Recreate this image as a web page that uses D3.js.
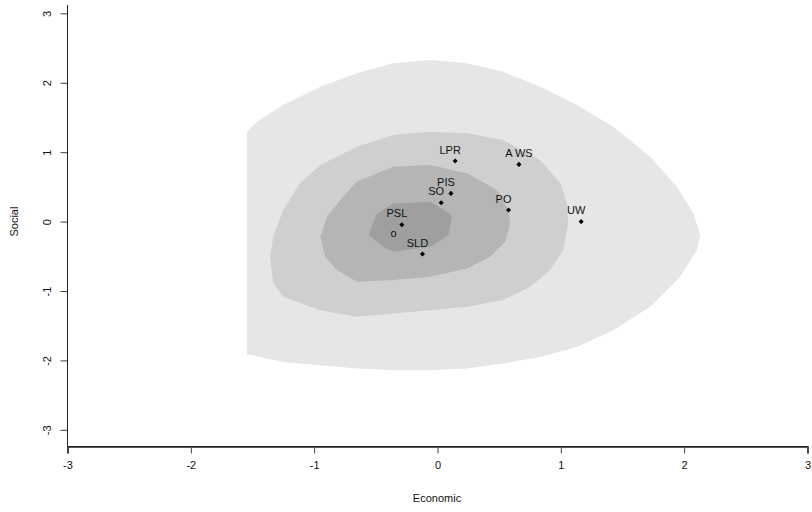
<!DOCTYPE html>
<html>
<head>
<meta charset="utf-8">
<script src="https://cdn.jsdelivr.net/npm/d3@7"></script>
<style>
  html, body { margin: 0; padding: 0; background: #fff; }
  svg { display: block; font-family: "Liberation Sans", Arial, sans-serif; }
</style>
</head>
<body>
<svg id="chart" width="812" height="512"></svg>
<script>
// Density contour bands (Economic, Social), outermost first
const band1 = [[-1.545,1.294],[-1.464,1.438],[-1.251,1.679],[-0.951,1.943],[-0.654,2.136],[-0.359,2.280],[-0.059,2.328],[0.238,2.280],[0.532,2.159],[0.832,1.943],[1.130,1.679],[1.425,1.366],[1.725,0.934],[1.941,0.502],[2.074,0.123],[2.130,-0.195],[2.103,-0.411],[1.968,-0.796],[1.725,-1.228],[1.425,-1.564],[1.130,-1.805],[0.832,-1.949],[0.532,-2.044],[0.238,-2.116],[-0.059,-2.140],[-0.359,-2.140],[-0.654,-2.116],[-0.951,-2.068],[-1.251,-2.021],[-1.545,-1.910]];
const band2 = [[-1.357,-0.507],[-1.332,-0.219],[-1.251,0.166],[-1.113,0.555],[-0.951,0.814],[-0.654,1.078],[-0.359,1.247],[-0.059,1.294],[0.238,1.271],[0.532,1.175],[0.832,0.886],[0.995,0.555],[1.049,0.267],[1.060,-0.022],[1.019,-0.411],[0.914,-0.699],[0.751,-0.940],[0.532,-1.131],[0.238,-1.228],[-0.059,-1.276],[-0.359,-1.323],[-0.654,-1.372],[-0.951,-1.276],[-1.251,-1.084],[-1.332,-0.886]];
const band3 = [[-0.951,-0.219],[-0.897,0.069],[-0.789,0.310],[-0.654,0.574],[-0.359,0.790],[-0.059,0.814],[0.238,0.695],[0.482,0.454],[0.576,0.166],[0.589,-0.026],[0.549,-0.291],[0.427,-0.507],[0.238,-0.675],[-0.059,-0.796],[-0.359,-0.843],[-0.654,-0.868],[-0.816,-0.699],[-0.911,-0.507]];
const band4 = [[-0.559,-0.195],[-0.491,0.118],[-0.359,0.262],[-0.059,0.285],[0.117,0.094],[0.089,-0.195],[-0.059,-0.363],[-0.359,-0.435],[-0.438,-0.363]];
const bandColors = ["#e6e6e6", "#cfcfcf", "#b5b5b5", "#9f9f9f"];

// Parties
const partyLabels = ["LPR", "A WS", "PIS", "SO", "PO", "UW", "PSL", "SLD"];
const economic    = [0.143, 0.660, 0.109, 0.030, 0.576, 1.165, -0.289, -0.122];
const social      = [0.872, 0.824, 0.406, 0.271, 0.166, 0.000, -0.046, -0.468];

// Centre marker
const centreEconomic = -0.357;
const centreSocial = -0.170;

const xTicks = [-3, -2, -1, 0, 1, 2, 3];
const yTicks = [-3, -2, -1, 0, 1, 2, 3];

const svg = d3.select("#chart");
const plotLeft = 67.5, plotRight = 807.5, plotTop = 5, plotBottom = 446.5;

const x = d3.scaleLinear().domain([-3, 3]).range([plotLeft, plotRight]);
const y = d3.scaleLinear().domain([-3.24, 3.12]).range([plotBottom, plotTop]);

const line = d3.line().x(d => x(d[0])).y(d => y(d[1])).curve(d3.curveLinearClosed);

svg.append("g").selectAll("path")
  .data([band1, band2, band3, band4])
  .join("path")
  .attr("d", line)
  .attr("fill", (d, i) => bandColors[i])
  .attr("stroke", "none");

const parties = partyLabels.map((l, i) => ({ l, e: economic[i], s: social[i] }));

// points
const sym = d3.symbol().type(d3.symbolSquare).size(13);
svg.append("g").selectAll("path")
  .data(parties)
  .join("path")
  .attr("d", sym)
  .attr("transform", d => `translate(${x(d.e)},${y(d.s)}) rotate(45)`)
  .attr("fill", "#000");

svg.append("g").selectAll("text")
  .data(parties)
  .join("text")
  .attr("x", d => x(d.e) + (d.l === "A WS" ? 0 : -5))
  .attr("y", d => y(d.s) - 7.5)
  .attr("text-anchor", "middle")
  .attr("font-size", 11)
  .attr("fill", "#111")
  .text(d => d.l);

svg.append("text")
  .attr("x", x(centreEconomic))
  .attr("y", y(centreSocial) + 4)
  .attr("text-anchor", "middle")
  .attr("font-size", 11)
  .attr("fill", "#111")
  .text("o");

// axes (hyphen-minus tick labels)
const fmt = d => String(d);
const xAxis = d3.axisBottom(x).tickValues(xTicks).tickSize(7).tickPadding(8).tickFormat(fmt);
const gx = svg.append("g").attr("transform", `translate(0,${plotBottom})`).call(xAxis);
gx.select(".domain").attr("stroke", "#222").attr("stroke-width", 1.6);
gx.selectAll(".tick line").attr("stroke", "#444");
gx.selectAll(".tick text").attr("font-size", 11).attr("font-family", "Liberation Sans, Arial, sans-serif").attr("fill", "#111");

const yAxis = d3.axisLeft(y).tickValues(yTicks).tickSize(7).tickFormat(fmt);
const gy = svg.append("g").attr("transform", `translate(${plotLeft},0)`).call(yAxis);
gy.select(".domain").remove();
gy.selectAll(".tick line").attr("stroke", "#444");
gy.selectAll(".tick text").remove();
gy.selectAll(".tick").append("text")
  .attr("transform", "translate(-20,0) rotate(-90)")
  .attr("text-anchor", "middle")
  .attr("dy", "0.35em")
  .attr("font-size", 11)
  .attr("font-family", "Liberation Sans, Arial, sans-serif")
  .attr("fill", "#111")
  .text(fmt);

// L-shaped frame
svg.append("path")
  .attr("d", `M${plotLeft},${plotTop}V${plotBottom}H${plotRight}`)
  .attr("fill", "none")
  .attr("stroke", "#222")
  .attr("stroke-width", 1);

// axis titles
svg.append("text")
  .attr("x", (plotLeft + plotRight) / 2 - 0.5)
  .attr("y", 502)
  .attr("text-anchor", "middle")
  .attr("font-size", 11)
  .attr("fill", "#111")
  .text("Economic");

svg.append("text")
  .attr("transform", `translate(18,${y(0)}) rotate(-90)`)
  .attr("text-anchor", "middle")
  .attr("font-size", 11)
  .attr("fill", "#111")
  .text("Social");
</script>
</body>
</html>
